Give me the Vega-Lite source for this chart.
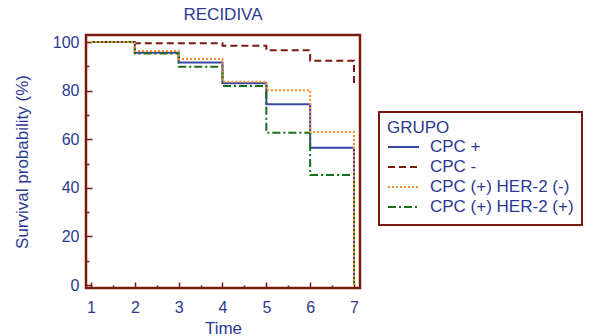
{
  "$schema": "https://vega.github.io/schema/vega-lite/v6.json",
  "width": 274,
  "height": 253,
  "autosize": {"type": "none"},
  "padding": {"left": 86, "top": 35, "right": 238, "bottom": 48},
  "background": "white",
  "config": {
    "view": {"stroke": "#7a1a0f", "strokeWidth": 2.5},
    "font": "Liberation Sans",
    "legend": {
      "orient": "none",
      "legendX": 293,
      "legendY": 77,
      "strokeColor": "#7a1a0f",
      "strokeWidth": 2,
      "padding": 8,
      "symbolType": "stroke",
      "symbolSize": 961,
      "symbolStrokeWidth": 2,
      "labelFontSize": 17,
      "titleFontSize": 17,
      "titleFontWeight": "normal",
      "titleColor": "#2b3990",
      "labelColor": "#2b3990",
      "labelOffset": 10,
      "clipHeight": 20,
      "rowPadding": 0,
      "titlePadding": 0
    }
  },
  "title": {"text": "RECIDIVA", "fontSize": 17, "fontWeight": "normal", "color": "#2b3990", "offset": 10, "anchor": "middle"},
  "data": {
    "values": [
      {"group": "CPC +", "time": 1, "surv": 100},
      {"group": "CPC +", "time": 2, "surv": 95.6},
      {"group": "CPC +", "time": 3, "surv": 91.6},
      {"group": "CPC +", "time": 4, "surv": 83},
      {"group": "CPC +", "time": 5, "surv": 74.4},
      {"group": "CPC +", "time": 6, "surv": 56.5},
      {"group": "CPC +", "time": 7, "surv": 0},
      {"group": "CPC -", "time": 1, "surv": 100},
      {"group": "CPC -", "time": 2, "surv": 99.5},
      {"group": "CPC -", "time": 3, "surv": 99.5},
      {"group": "CPC -", "time": 4, "surv": 98.5},
      {"group": "CPC -", "time": 5, "surv": 96.6},
      {"group": "CPC -", "time": 6, "surv": 92.3},
      {"group": "CPC -", "time": 7, "surv": 82.3},
      {"group": "CPC (+) HER-2 (+)", "time": 1, "surv": 100},
      {"group": "CPC (+) HER-2 (+)", "time": 2, "surv": 95.3},
      {"group": "CPC (+) HER-2 (+)", "time": 3, "surv": 89.8},
      {"group": "CPC (+) HER-2 (+)", "time": 4, "surv": 81.9},
      {"group": "CPC (+) HER-2 (+)", "time": 5, "surv": 62.7},
      {"group": "CPC (+) HER-2 (+)", "time": 6, "surv": 45.3},
      {"group": "CPC (+) HER-2 (+)", "time": 7, "surv": 0},
      {"group": "CPC (+) HER-2 (-)", "time": 1, "surv": 100},
      {"group": "CPC (+) HER-2 (-)", "time": 2, "surv": 96.3},
      {"group": "CPC (+) HER-2 (-)", "time": 3, "surv": 93},
      {"group": "CPC (+) HER-2 (-)", "time": 4, "surv": 83.7},
      {"group": "CPC (+) HER-2 (-)", "time": 5, "surv": 80.2},
      {"group": "CPC (+) HER-2 (-)", "time": 6, "surv": 63},
      {"group": "CPC (+) HER-2 (-)", "time": 7, "surv": 0}
    ]
  },
  "mark": {"type": "line", "interpolate": "step-after", "strokeWidth": 2},
  "encoding": {
    "x": {
      "field": "time", "type": "quantitative",
      "scale": {"domain": [0.886, 7.137], "nice": false, "zero": false},
      "axis": {
        "title": "Time",
        "values": [1, 1.5, 2, 2.5, 3, 3.5, 4, 4.5, 5, 5.5, 6, 6.5, 7],
        "labelExpr": "datum.value % 1 === 0 ? format(datum.value, 'd') : ''",
        "domain": false, "grid": false,
        "tickColor": "#7a1a0f", "tickWidth": 1.5,
        "tickSize": {"condition": {"test": "datum.value % 1 === 0", "value": -6}, "value": -3},
        "labelColor": "#2b3990", "labelFontSize": 16, "labelPadding": 17,
        "titleColor": "#2b3990", "titleFontSize": 17, "titleFontWeight": "normal", "titlePadding": 5
      }
    },
    "y": {
      "field": "surv", "type": "quantitative",
      "scale": {"domain": [-1.2, 102.9], "nice": false, "zero": false},
      "axis": {
        "title": "Survival probability (%)",
        "values": [0, 10, 20, 30, 40, 50, 60, 70, 80, 90, 100],
        "labelExpr": "datum.value % 20 === 0 ? datum.label : ''",
        "domain": false, "grid": false,
        "tickColor": "#7a1a0f", "tickWidth": 1.5,
        "tickSize": {"condition": {"test": "datum.value % 20 === 0", "value": -6}, "value": -3},
        "labelColor": "#2b3990", "labelFontSize": 16, "labelPadding": 13,
        "titleColor": "#2b3990", "titleFontSize": 17, "titleFontWeight": "normal", "titlePadding": 21
      }
    },
    "color": {
      "field": "group", "type": "nominal", "title": "GRUPO",
      "scale": {"domain": ["CPC +", "CPC -", "CPC (+) HER-2 (-)", "CPC (+) HER-2 (+)"], "range": ["#3a46a6", "#7a1a0f", "#ff8a2a", "#17701a"]},
      "legend": {"labelExpr": "datum.label + '\u00a0\u00a0\u00a0\u00a0\u00a0\u00a0\u00a0\u00a0\u00a0\u00a0'"}
    },
    "strokeDash": {
      "field": "group", "type": "nominal", "title": "GRUPO",
      "scale": {"domain": ["CPC +", "CPC -", "CPC (+) HER-2 (-)", "CPC (+) HER-2 (+)"], "range": [[1, 0], [7, 4], [2, 2], [8, 3, 2, 3]]},
      "legend": {"labelExpr": "datum.label + '\u00a0\u00a0\u00a0\u00a0\u00a0\u00a0\u00a0\u00a0\u00a0\u00a0'"}
    }
  }
}
